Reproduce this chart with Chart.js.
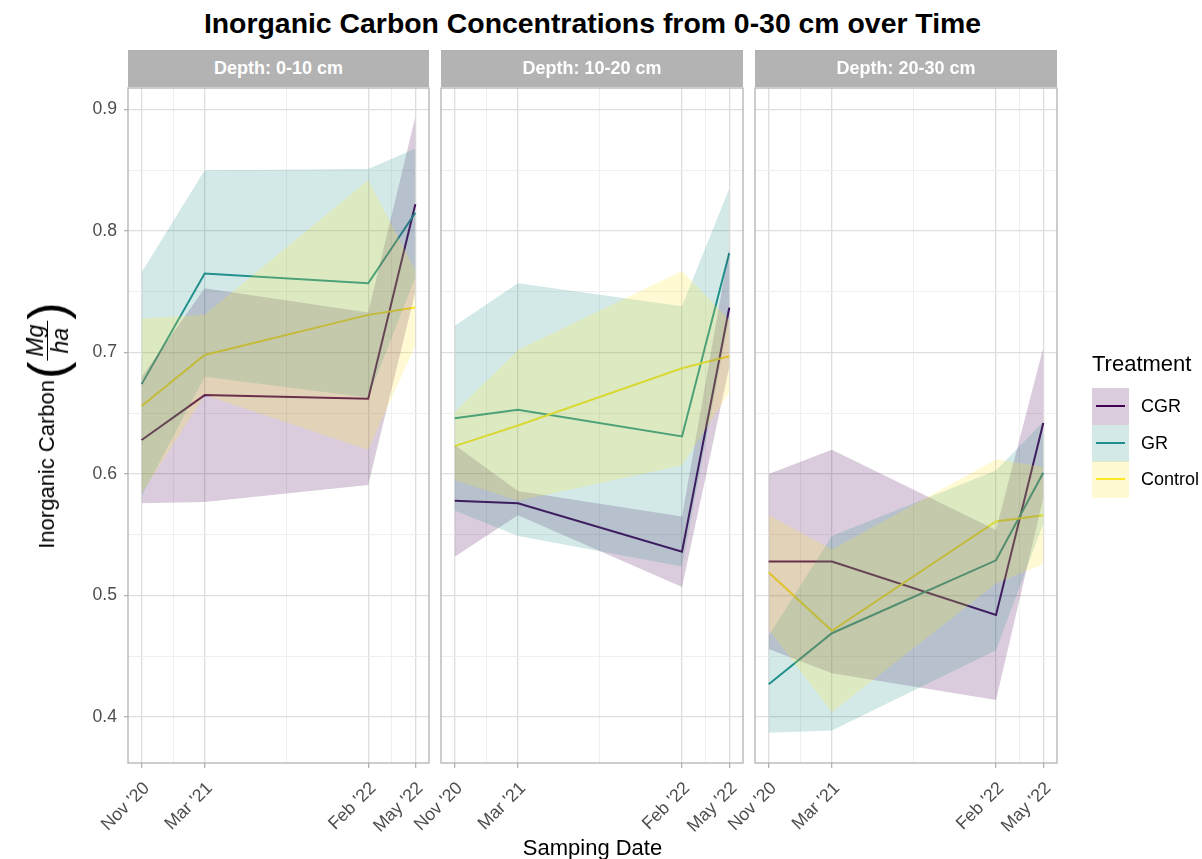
<!DOCTYPE html>
<html>
<head>
<meta charset="utf-8">
<title>Inorganic Carbon Concentrations</title>
<script src="https://cdn.jsdelivr.net/npm/chart.js@4.4.1/dist/chart.umd.min.js"></script>
<style>
  body { margin: 0; background: #fff; font-family: "Liberation Sans", Arial, sans-serif; }
  #wrap { position: relative; width: 1202px; height: 859px; overflow: hidden; background: #fff; }
  #wrap canvas { position: absolute; left: 0; top: 0; }
  .title { position: absolute; left: 0; width: 1185px; top: 9px; text-align: center; font-weight: bold; font-size: 28.4px; line-height: 28px; color: #000; }
  .strip { position: absolute; top: 50px; height: 37px; line-height: 37px; background: #B3B3B3; color: #fff; font-weight: bold; font-size: 18px; text-align: center; }
  .xtitle { position: absolute; left: 0; width: 1185px; top: 837px; text-align: center; font-size: 22px; line-height: 22px; color: #000; }
  #ytitle { position: absolute; left: 47px; top: 425px; transform: translate(-50%, -50%) rotate(-90deg); display: flex; align-items: center; white-space: nowrap; font-size: 22px; color: #000; }
  #ytitle .paren { font-size: 52px; line-height: 52px; margin: 0 1px; }
  #ytitle .frac { display: inline-flex; flex-direction: column; align-items: center; font-style: italic; font-size: 23px; line-height: 24px; }
  #ytitle .frac .num { border-bottom: 1.5px solid #000; padding: 0 4px; }
  .legtitle { position: absolute; left: 1092px; top: 353px; font-size: 22px; line-height: 22px; color: #000; white-space: nowrap; }
  .key { position: absolute; left: 1092px; width: 37px; height: 37px; }
  .key .ln { position: absolute; left: 4px; right: 4px; top: 17px; height: 2px; }
  .keylab { position: absolute; left: 1141px; font-size: 18px; line-height: 20px; color: #000; white-space: nowrap; }
</style>
</head>
<body>
<div id="wrap">
  <div class="title">Inorganic Carbon Concentrations from 0-30 cm over Time</div>
  <canvas id="panel0" width="1202" height="859"></canvas>
  <canvas id="panel1" width="1202" height="859"></canvas>
  <canvas id="panel2" width="1202" height="859"></canvas>
  <div id="ytitle"><span>Inorganic Carbon</span><span class="paren">(</span><span class="frac"><span class="num">Mg</span><span>ha</span></span><span class="paren">)</span></div>
  <div class="xtitle">Samping Date</div>
  <div class="legtitle">Treatment</div>
</div>
<script>
var sampleDates = ['2020-11-30', '2021-03-29', '2022-02-01', '2022-05-01'];
var dateLabels = ["Nov '20", "Mar '21", "Feb '22", "May '22"];
var depths = ['Depth: 0-10 cm', 'Depth: 10-20 cm', 'Depth: 20-30 cm'];
var treatments = ['CGR', 'GR', 'Control'];
var treatmentColors = ['#440154', '#21908C', '#FDE725'];
var ribbonColors = ['rgba(68,1,84,0.2)', 'rgba(33,144,140,0.2)', 'rgba(253,231,37,0.2)'];

// mean inorganic carbon (Mg/ha), one row per depth, one value per sampling date
var cgrMean = [[0.628, 0.665, 0.662, 0.822], [0.578, 0.576, 0.536, 0.737], [0.528, 0.528, 0.484, 0.642]];
var grMean = [[0.674, 0.765, 0.757, 0.815], [0.646, 0.653, 0.631, 0.782], [0.427, 0.469, 0.529, 0.601]];
var ctlMean = [[0.656, 0.698, 0.731, 0.737], [0.623, 0.640, 0.687, 0.697], [0.519, 0.471, 0.561, 0.566]];
// half width of the shaded band around each mean
var cgrErr = [[0.052, 0.088, 0.071, 0.072], [0.046, 0.010, 0.029, 0.049], [0.072, 0.092, 0.070, 0.062]];
var grErr = [[0.092, 0.085, 0.094, 0.053], [0.076, 0.104, 0.107, 0.053], [0.040, 0.080, 0.074, 0.042]];
var ctlErr = [[0.072, 0.033, 0.111, 0.031], [0.028, 0.062, 0.080, 0.030], [0.047, 0.067, 0.051, 0.040]];

var yBreaks = [0.4, 0.5, 0.6, 0.7, 0.8, 0.9];
var yMinor = [0.45, 0.55, 0.65, 0.75, 0.85];
var yRange = [0.3622, 0.9177];

var means = [cgrMean, grMean, ctlMean];
var errs = [cgrErr, grErr, ctlErr];

// facet geometry
var panelLeft = [128, 441, 755];
var panelRight = [429, 743, 1057];
var plotTop = 88;
var plotBottom = 763;
var xAxisH = 80;
var fontFamily = "'Liberation Sans', Arial, sans-serif";

var day0 = Date.parse(sampleDates[0]);
var xDays = sampleDates.map(function (d) { return (Date.parse(d) - day0) / 86400000; });
var xSpan = xDays[xDays.length - 1] - xDays[0];

var xTicks = [];
xDays.forEach(function (x, i) {
    xTicks.push({ value: x, text: dateLabels[i], minor: false });
    if (i < xDays.length - 1) xTicks.push({ value: (x + xDays[i + 1]) / 2, text: '', minor: true });
});
var yTicks = yBreaks.map(function (v) { return { value: v, text: v.toFixed(1), minor: false }; })
    .concat(yMinor.map(function (v) { return { value: v, text: '', minor: true }; }))
    .sort(function (a, b) { return a.value - b.value; });

function points(vals) {
    return xDays.map(function (x, i) { return { x: x, y: vals[i] }; });
}

function buildDatasets(p) {
    var ribbons = [];
    var lines = [];
    // datasets are painted last-to-first: lines go first, bands cover them, Control band on top
    for (var t = treatments.length - 1; t >= 0; t--) {
        var m = means[t][p];
        var e = errs[t][p];
        ribbons.push({
            label: treatments[t] + ' upper',
            data: points(m.map(function (v, i) { return v + e[i]; })),
            fill: '+1',
            backgroundColor: ribbonColors[t],
            borderColor: 'rgba(0,0,0,0)',
            pointRadius: 0
        });
        ribbons.push({
            label: treatments[t] + ' lower',
            data: points(m.map(function (v, i) { return v - e[i]; })),
            fill: false,
            borderColor: 'rgba(0,0,0,0)',
            pointRadius: 0
        });
        lines.push({
            label: treatments[t],
            data: points(m),
            fill: false,
            borderColor: treatmentColors[t],
            borderWidth: 2,
            pointRadius: 0
        });
    }
    return ribbons.concat(lines);
}

var panelBorder = {
    id: 'panelBorder',
    afterDatasetsDraw: function (chart) {
        var ctx = chart.ctx, a = chart.chartArea;
        ctx.save();
        ctx.strokeStyle = '#B3B3B3';
        ctx.lineWidth = 1.3;
        ctx.strokeRect(a.left, a.top, a.right - a.left, a.bottom - a.top);
        ctx.restore();
    }
};

function gridColor(c) { return c.tick && c.tick.minor ? '#EFEFEF' : '#DEDEDE'; }
function gridWidth(c) { return c.tick && c.tick.minor ? 1 : 1.3; }
function tickColor(c) { return c.tick && c.tick.minor ? 'rgba(0,0,0,0)' : '#B3B3B3'; }

var wrap = document.getElementById('wrap');

depths.forEach(function (depth, p) {
    var first = p === 0;
    var yAxisW = first ? 40 : 0;

    var strip = document.createElement('div');
    strip.className = 'strip';
    strip.style.left = panelLeft[p] + 'px';
    strip.style.width = (panelRight[p] - panelLeft[p]) + 'px';
    strip.textContent = depth;
    wrap.appendChild(strip);

    new Chart(document.getElementById('panel' + p), {
        type: 'line',
        data: { datasets: buildDatasets(p) },
        options: {
            responsive: false,
            animation: false,
            events: [],
            layout: {
                padding: {
                    left: panelLeft[p] - yAxisW,
                    right: 1202 - panelRight[p],
                    top: plotTop,
                    bottom: 859 - plotBottom - xAxisH
                }
            },
            plugins: {
                legend: { display: false },
                tooltip: { enabled: false },
                filler: { drawTime: 'beforeDatasetDraw' }
            },
            scales: {
                x: {
                    type: 'linear',
                    min: xDays[0] - 0.05 * xSpan,
                    max: xDays[xDays.length - 1] + 0.05 * xSpan,
                    afterBuildTicks: function (s) {
                        s.ticks = xTicks.map(function (t) { return Object.assign({}, t); });
                    },
                    afterFit: function (s) { s.height = xAxisH; },
                    ticks: {
                        autoSkip: false,
                        minRotation: 45,
                        maxRotation: 45,
                        padding: 10,
                        labelOffset: 5,
                        color: '#4D4D4D',
                        font: { family: fontFamily, size: 17.8 },
                        callback: function (v, i, ticks) { return ticks[i].text; }
                    },
                    grid: { color: gridColor, lineWidth: gridWidth, tickColor: tickColor, tickLength: 5 },
                    border: { display: false }
                },
                y: {
                    min: yRange[0],
                    max: yRange[1],
                    afterBuildTicks: function (s) {
                        s.ticks = yTicks.map(function (t) { return Object.assign({}, t); });
                    },
                    afterFit: function (s) { s.width = yAxisW; },
                    ticks: {
                        display: first,
                        padding: 7,
                        color: '#4D4D4D',
                        font: { family: fontFamily, size: 17.6 },
                        callback: function (v, i, ticks) { return ticks[i].text; }
                    },
                    grid: { color: gridColor, lineWidth: gridWidth, tickColor: tickColor, tickLength: 4, drawTicks: first },
                    border: { display: false }
                }
            }
        },
        plugins: [panelBorder]
    });
});

// legend keys: band colour with the line drawn across it
treatments.forEach(function (t, i) {
    var top = 388 + i * 36.67;
    var key = document.createElement('div');
    key.className = 'key';
    key.style.top = top + 'px';
    key.style.background = ribbonColors[i];
    var ln = document.createElement('div');
    ln.className = 'ln';
    ln.style.background = treatmentColors[i];
    key.appendChild(ln);
    wrap.appendChild(key);

    var lab = document.createElement('div');
    lab.className = 'keylab';
    lab.style.top = (top + 8) + 'px';
    lab.textContent = t;
    wrap.appendChild(lab);
});
</script>
</body>
</html>
